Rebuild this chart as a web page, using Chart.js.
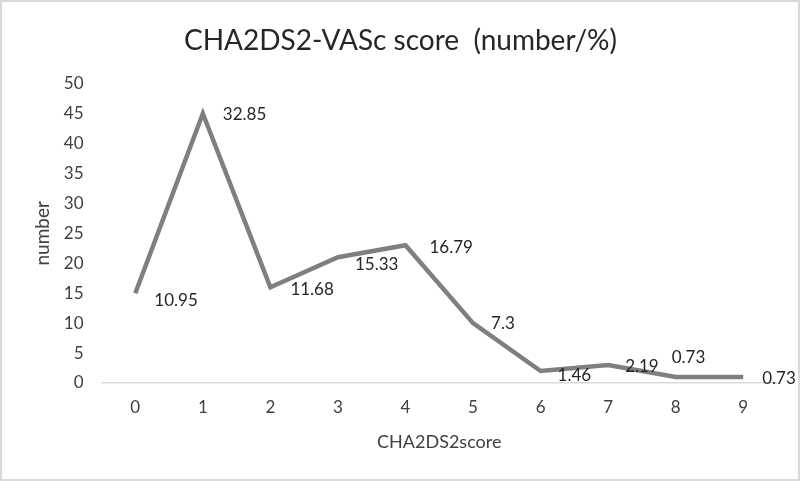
<!DOCTYPE html>
<html>
<head>
<meta charset="utf-8">
<script src="https://cdn.jsdelivr.net/npm/chart.js@4/dist/chart.umd.min.js"></script>
<style>
    html, body { margin: 0; padding: 0; background: #fff; }
    .frame { width: 796px; height: 477px; border: 2px solid #d9d9d9; position: relative; }
    canvas { display: block; }
</style>
</head>
<body>
<div class="frame"><canvas id="scoreChart" width="796" height="477"></canvas></div>
<script>
// CHA2DS2-VASc score distribution
const scores = ['0', '1', '2', '3', '4', '5', '6', '7', '8', '9'];
const counts = [15, 45, 16, 21, 23, 10, 2, 3, 1, 1];
const percents = ['10.95', '32.85', '11.68', '15.33', '16.79', '7.3', '1.46', '2.19', '0.73', '0.73'];
const yTicks = [0, 5, 10, 15, 20, 25, 30, 35, 40, 45, 50];

// where each percent label sits relative to its point (dx, dy)
const labelShift = [[19, 7], [20, 1], [20, 2], [17, 7], [24, 2], [18, 0], [17, 4], [17, 1], [-4, -19], [19, 2]];

const FONT = 'Lato, "Open Sans", sans-serif';

const pctLabels = {
    id: 'pctLabels',
    afterDatasetsDraw(chart) {
        const ctx = chart.ctx;
        const meta = chart.getDatasetMeta(0);
        ctx.save();
        ctx.font = '17px ' + FONT;
        ctx.fillStyle = '#262626';
        ctx.textAlign = 'left';
        ctx.textBaseline = 'middle';
        meta.data.forEach((pt, i) => {
            const s = labelShift[i];
            ctx.fillText(percents[i], pt.x + s[0], pt.y + s[1]);
        });
        ctx.restore();
    }
};

new Chart(document.getElementById('scoreChart'), {
    type: 'line',
    data: {
        labels: scores,
        datasets: [{
            data: counts,
            borderColor: '#7f7f7f',
            borderWidth: 4.5,
            pointRadius: 0,
            tension: 0,
            fill: false
        }]
    },
    options: {
        responsive: false,
        animation: false,
        layout: { padding: { top: 10, right: 21, bottom: 22, left: 22 } },
        plugins: {
            legend: { display: false },
            tooltip: { enabled: false },
            title: {
                display: true,
                text: 'CHA2DS2-VASc score  (number/%)',
                color: '#262626',
                font: { family: FONT, size: 28, weight: 'normal' },
                padding: { top: 12, bottom: 26 }
            }
        },
        scales: {
            x: {
                offset: true,
                grid: { display: false, drawTicks: false },
                border: { display: true, color: '#d9d9d9', width: 1.5 },
                ticks: { color: '#404040', font: { family: FONT, size: 17 }, padding: 14 },
                title: {
                    display: true,
                    text: 'CHA2DS2score',
                    color: '#404040',
                    font: { family: FONT, size: 18 },
                    padding: { top: 0 }
                }
            },
            y: {
                min: 0,
                max: 50,
                afterBuildTicks: axis => { axis.ticks = yTicks.map(v => ({ value: v })); },
                grid: { display: false, drawTicks: false },
                border: { display: false },
                ticks: { color: '#404040', font: { family: FONT, size: 17 }, padding: 18 },
                title: {
                    display: true,
                    text: 'number',
                    color: '#404040',
                    font: { family: FONT, size: 19 },
                    padding: { top: 7.5, bottom: -8.5 }
                }
            }
        }
    },
    plugins: [pctLabels]
});
</script>
</body>
</html>
